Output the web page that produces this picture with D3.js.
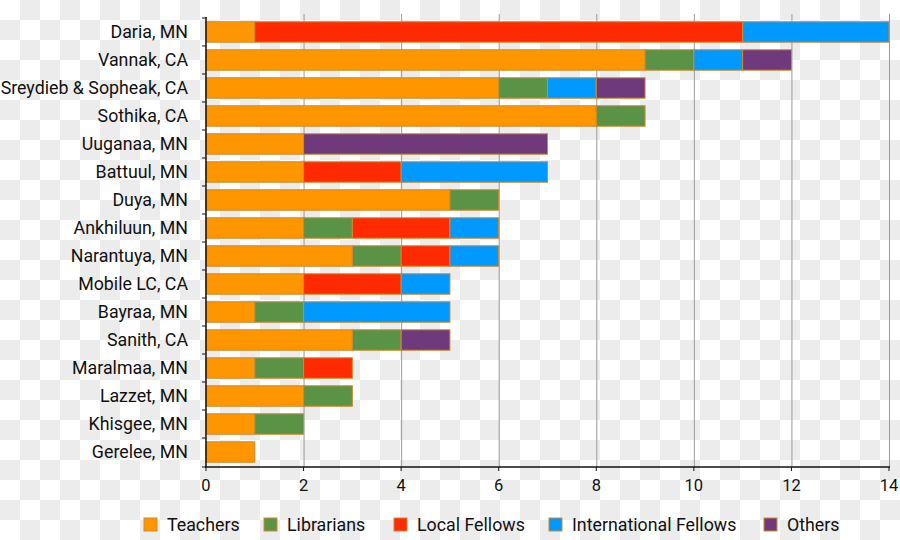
<!DOCTYPE html>
<html>
<head>
<meta charset="utf-8">
<script src="https://cdn.jsdelivr.net/npm/d3@7"></script>
<style>
  body { margin: 0; }
  text { font-family: "Roboto", "DejaVu Sans", sans-serif; fill: #111; }
</style>
</head>
<body>
<div id="chart"></div>
<script>
var names = ["Daria, MN", "Vannak, CA", "Sreydieb & Sopheak, CA", "Sothika, CA", "Uuganaa, MN",
  "Battuul, MN", "Duya, MN", "Ankhiluun, MN", "Narantuya, MN", "Mobile LC, CA",
  "Bayraa, MN", "Sanith, CA", "Maralmaa, MN", "Lazzet, MN", "Khisgee, MN", "Gerelee, MN"];

var seriesNames = ["Teachers", "Librarians", "Local Fellows", "International Fellows", "Others"];
var teachers   = [1, 9, 6, 8, 2, 2, 5, 2, 3, 2, 1, 3, 1, 2, 1, 1];
var librarians = [0, 1, 1, 1, 0, 0, 1, 1, 1, 0, 1, 1, 1, 1, 1, 0];
var localF     = [10, 0, 0, 0, 0, 2, 0, 2, 1, 2, 0, 0, 1, 0, 0, 0];
var intlF      = [3, 1, 1, 0, 0, 3, 0, 1, 1, 1, 3, 0, 0, 0, 0, 0];
var others     = [0, 1, 1, 0, 5, 0, 0, 0, 0, 0, 0, 1, 0, 0, 0, 0];
var xTicks = [0, 2, 4, 6, 8, 10, 12, 14];

var colors = ["#ff9600", "#5b9346", "#ff2a00", "#0099ff", "#6e3a7b"];

var W = 900, H = 540;
var svg = d3.select("#chart").append("svg").attr("width", W).attr("height", H);

// checkered backdrop
var pat = svg.append("defs").append("pattern")
  .attr("id", "chk").attr("width", 40).attr("height", 40)
  .attr("patternUnits", "userSpaceOnUse");
pat.append("rect").attr("width", 40).attr("height", 40).attr("fill", "#fff");
pat.append("rect").attr("x", 20).attr("y", 0).attr("width", 20).attr("height", 20).attr("fill", "#ececec");
pat.append("rect").attr("x", 0).attr("y", 20).attr("width", 20).attr("height", 20).attr("fill", "#ececec");
svg.append("rect").attr("width", W).attr("height", H).attr("fill", "url(#chk)");

var rows = names.map(function (n, i) {
  return { name: n, Teachers: teachers[i], Librarians: librarians[i],
    "Local Fellows": localF[i], "International Fellows": intlF[i], Others: others[i] };
});

var x = d3.scaleLinear().domain([0, 14]).range([206, 889]);
var y = d3.scaleBand().domain(names).range([17, 467]).paddingInner(0.27).paddingOuter(0.17);

// grid
svg.append("g").selectAll("line").data(xTicks.slice(1)).enter().append("line")
  .attr("x1", function (d) { return x(d) + 0.5; })
  .attr("x2", function (d) { return x(d) + 0.5; })
  .attr("y1", 14).attr("y2", 467)
  .attr("stroke", "#9a9a9a").attr("stroke-width", 1);

var stack = d3.stack().keys(seriesNames)(rows);

svg.append("g").selectAll("g").data(stack).enter().append("g")
  .attr("fill", function (d, i) { return colors[i]; })
  .selectAll("rect").data(function (d) { return d; }).enter()
  .filter(function (d) { return d[1] > d[0]; })
  .append("rect")
    .attr("x", function (d) { return x(d[0]); })
    .attr("y", function (d) { return y(d.data.name); })
    .attr("width", function (d) { return x(d[1]) - x(d[0]); })
    .attr("height", y.bandwidth())
    .attr("stroke", "#d08a2a").attr("stroke-width", 1);

// y axis
var boundaries = names.map(function (n) { return y(n) - y.step() * y.paddingInner() / 2; });
boundaries.push(467);
var yAx = svg.append("g");
yAx.append("line").attr("x1", 206).attr("x2", 206).attr("y1", 17).attr("y2", 467)
  .attr("stroke", "#111").attr("stroke-width", 1.5);
yAx.selectAll("line.t").data(boundaries).enter().append("line").attr("class", "t")
  .attr("x1", 202).attr("x2", 206)
  .attr("y1", function (d) { return d; }).attr("y2", function (d) { return d; })
  .attr("stroke", "#111");
yAx.selectAll("text").data(names).enter().append("text")
  .attr("x", 188)
  .attr("y", function (d) { return y(d) + y.bandwidth() / 2; })
  .attr("dy", "0.35em")
  .attr("text-anchor", "end")
  .style("font-size", "17.8px")
  .text(function (d) { return d; });

// x axis
var xAx = svg.append("g");
xAx.append("line").attr("x1", 205).attr("x2", 890).attr("y1", 467).attr("y2", 467)
  .attr("stroke", "#111").attr("stroke-width", 1.5);
xAx.selectAll("line.t").data(xTicks).enter().append("line").attr("class", "t")
  .attr("x1", function (d) { return x(d); }).attr("x2", function (d) { return x(d); })
  .attr("y1", 467).attr("y2", 471).attr("stroke", "#111");
xAx.selectAll("text").data(xTicks).enter().append("text")
  .attr("x", function (d) { return x(d); })
  .attr("y", 491)
  .attr("text-anchor", "middle")
  .style("font-size", "16.5px")
  .text(function (d) { return d; });

// legend
var legX = [144, 264, 394, 549, 764];
var leg = svg.append("g").selectAll("g").data(seriesNames).enter().append("g")
  .attr("transform", function (d, i) { return "translate(" + legX[i] + ",518)"; });
leg.append("rect").attr("width", 13).attr("height", 13)
  .attr("fill", function (d, i) { return colors[i]; })
  .attr("stroke", "#d08a2a").attr("stroke-width", 1);
leg.append("text").attr("x", 23).attr("y", 12.5)
  .style("font-size", "17.8px")
  .text(function (d) { return d; });
</script>
</body>
</html>
